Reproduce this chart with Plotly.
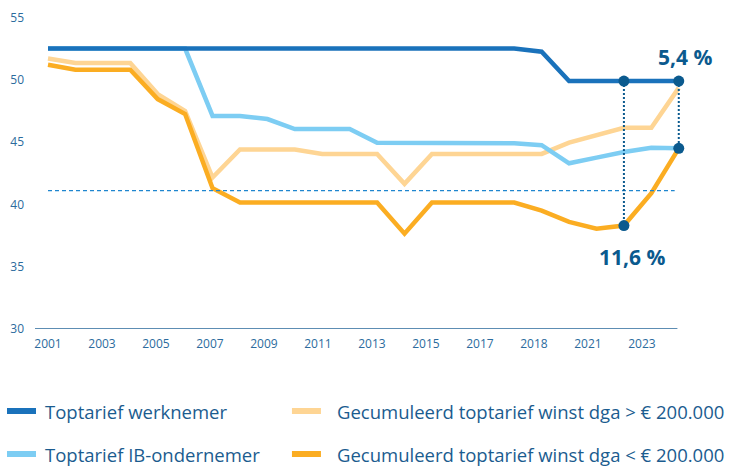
import plotly.graph_objects as go

years = list(range(2001, 2025))
tick_labels = ["2001", "2003", "2005", "2007", "2009", "2011", "2013",
               "2015", "2017", "2018", "2021", "2023"]

werknemer = [52.5]*18 + [52.25] + [49.9]*5
ib_ondernemer = [52.5]*6 + [47.1, 47.1, 46.85, 46.05, 46.05, 46.05,
                            44.95, 44.95, 44.95, 44.95, 44.95, 44.9,
                            44.75, 43.3, 43.75, 44.2, 44.55, 44.5]
dga_hoog = [51.7, 51.35, 51.35, 51.35, 48.85, 47.5, 42.15, 44.4, 44.4, 44.4,
            44.05, 44.05, 44.05, 41.65, 44.05, 44.05, 44.05, 44.05, 44.05,
            44.95, 45.55, 46.15, 46.15, 49.35]
dga_laag = [51.2, 50.8, 50.8, 50.8, 48.45, 47.25, 41.3, 40.15, 40.15, 40.15,
            40.15, 40.15, 40.15, 37.65, 40.15, 40.15, 40.15, 40.15, 39.5,
            38.6, 38.05, 38.3, 40.9, 44.5]
ref_level = 41.1
label_top = "5,4 %"
label_bottom = "11,6 %"

series_names = ["Toptarief werknemer", "Gecumuleerd toptarief winst dga > € 200.000",
                "Toptarief IB-ondernemer", "Gecumuleerd toptarief winst dga < € 200.000"]
series_colors = ["#1a72bb", "#fed594", "#7dcdf3", "#fbad22"]

x = list(range(len(years)))
NAVY = "#0b5a8e"
TXT = "#1b5c8f"

fig = go.Figure()

draw_order = [1, 3, 2, 0]
series_values = [werknemer, dga_hoog, ib_ondernemer, dga_laag]
for k in draw_order:
    fig.add_trace(go.Scatter(x=x, y=series_values[k], mode="lines", name=series_names[k],
                             line=dict(color=series_colors[k], width=4.5), showlegend=False))

# reference dashed line
fig.add_trace(go.Scatter(x=[x[0], x[-1] - 0.15], y=[ref_level, ref_level], mode="lines",
                         line=dict(color="#1f86cf", width=1.2, dash="4px,3px"),
                         showlegend=False, hoverinfo="skip"))

# dotted verticals
i_a, i_b = len(x) - 3, len(x) - 1
fig.add_trace(go.Scatter(x=[x[i_a], x[i_a]], y=[werknemer[i_a], dga_laag[i_a]], mode="lines",
                         line=dict(color=NAVY, width=2, dash="2px,2px"), showlegend=False))
fig.add_trace(go.Scatter(x=[x[i_b], x[i_b]], y=[werknemer[i_b], ib_ondernemer[i_b]], mode="lines",
                         line=dict(color=NAVY, width=2, dash="2px,2px"), showlegend=False))
fig.add_trace(go.Scatter(x=[x[i_a], x[i_b], x[i_a], x[i_b]],
                         y=[werknemer[i_a], werknemer[i_b], dga_laag[i_a], ib_ondernemer[i_b]],
                         mode="markers", marker=dict(color=NAVY, size=11),
                         showlegend=False, cliponaxis=False))

fig.add_annotation(x=x[i_b], y=werknemer[i_b], text=f"<b>{label_top}</b>", showarrow=False,
                   xshift=6, yshift=24, font=dict(size=21, color=NAVY))
fig.add_annotation(x=x[i_a], y=dga_laag[i_a], text=f"<b>{label_bottom}</b>", showarrow=False,
                   xshift=8, yshift=-31, font=dict(size=21, color=NAVY))

# plot area in pixels: left 35, width PW, bottom 329, height 324
X_MIN, X_MAX = -0.474, 23.3
PW = (X_MAX - X_MIN) * 27.43
R = 732 - 35 - PW

# x axis baseline (ends at last data point)
fig.add_shape(type="line", xref="x", yref="y", x0=X_MIN, x1=x[-1] - 0.05, y0=30, y1=30,
              line=dict(color="#27679a", width=1.4))

# legend (two columns, two rows): sample start, text start, row centre (pixels)
W, H = 732, 466
legend_pos = [(7, 43, 411), (292, 335, 411), (7, 43, 454), (292, 335, 454)]
for k, (lx, tx, ly) in enumerate(legend_pos):
    fig.add_shape(type="line", xref="paper", yref="paper",
                  x0=(lx - 35) / PW, x1=(lx + 29 - 35) / PW,
                  y0=(329 - ly) / 324, y1=(329 - ly) / 324,
                  line=dict(color=series_colors[k], width=6))
    fig.add_annotation(xref="paper", yref="paper", x=(tx - 35) / PW,
                       y=(329 - ly) / 324, text=series_names[k], showarrow=False,
                       xanchor="left", yanchor="middle",
                       font=dict(size=18.5, color=TXT))

tick_step = 54 / 27.43
fig.update_layout(
    width=W, height=H,
    margin=dict(l=35, r=R, t=5, b=137),
    plot_bgcolor="white", paper_bgcolor="white",
    font=dict(family="Open Sans", color=TXT),
    showlegend=False,
    xaxis=dict(range=[X_MIN, X_MAX], tickmode="array",
               tickvals=[i * tick_step for i in range(len(tick_labels))],
               ticktext=tick_labels, showgrid=False, zeroline=False,
               showline=False, ticks="", ticklabelstandoff=6, automargin=False,
               tickfont=dict(size=12, color="#2c6b9d")),
    yaxis=dict(range=[30, 56], tickvals=[30, 35, 40, 45, 50, 55],
               showgrid=False, zeroline=False, showline=False,
               ticks="", ticklabelstandoff=10, automargin=False,
               tickfont=dict(size=12, color="#2c6b9d")),
)

fig.write_html("out.html", config={"displayModeBar": False},
               post_script="document.body.style.margin='0';document.body.style.overflow='hidden';")
